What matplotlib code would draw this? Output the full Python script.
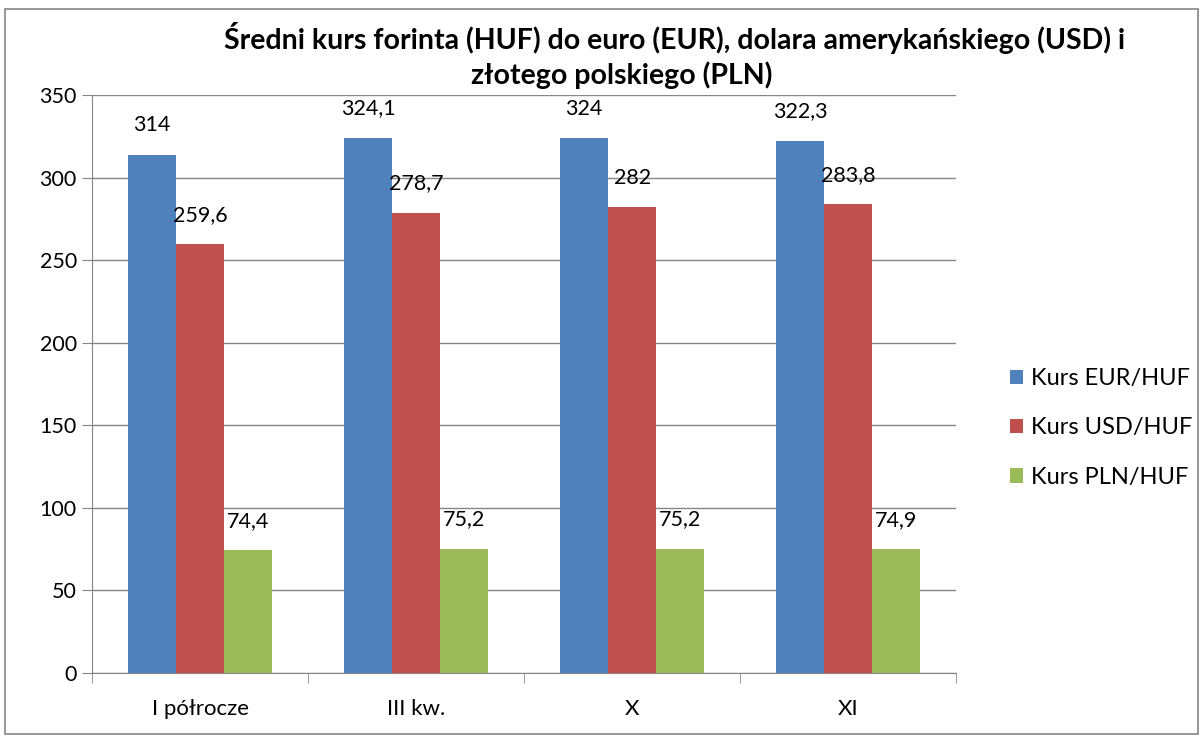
import numpy as np
import matplotlib.pyplot as plt
from matplotlib.patches import Rectangle

plt.rcParams["font.family"] = ["Lato", "DejaVu Sans"]

categories = ["I półrocze", "III kw.", "X", "XI"]
eur_huf = [314, 324.1, 324, 322.3]
usd_huf = [259.6, 278.7, 282, 283.8]
pln_huf = [74.4, 75.2, 75.2, 74.9]
series_names = ["Kurs EUR/HUF", "Kurs USD/HUF", "Kurs PLN/HUF"]
colors = ["#4f81bd", "#c0504d", "#9bbb59"]

fig = plt.figure(figsize=(12.03, 7.37), dpi=100)
ax = fig.add_axes([0.0765, 0.0868, 0.7185, 0.7842])

x = np.arange(len(categories))
width = 0.222
for i, (vals, name, c) in enumerate(zip([eur_huf, usd_huf, pln_huf], series_names, colors)):
    pos = x + (i - 1) * width
    ax.bar(pos, vals, width, color=c, label=name, zorder=3)
    for px, v in zip(pos, vals):
        ax.annotate(f"{v:g}".replace(".", ","), (px, v), xytext=(0, 14),
                    textcoords="offset points", ha="center", va="bottom", fontsize=15.5)

ax.set_ylim(0, 350)
ax.set_yticks(np.arange(0, 351, 50))
ax.set_xlim(-0.5, len(categories) - 0.5)
ax.set_xticks(x)
ax.set_xticklabels(categories)
ax.set_xticks(np.arange(-0.5, len(categories)), minor=True)
ax.tick_params(axis="x", which="major", length=0, pad=19, labelsize=16)
ax.tick_params(axis="x", which="minor", length=7, color="#868686", direction="out")
ax.tick_params(axis="y", length=7, color="#868686", labelsize=15.5, pad=4)
ax.yaxis.grid(True, color="#868686", linewidth=1, zorder=0)
for s in ["top", "right"]:
    ax.spines[s].set_visible(False)
for s in ["left", "bottom"]:
    ax.spines[s].set_color("#868686")

ax.legend(loc="center left", bbox_to_anchor=(1.062, 0.424), frameon=False, fontsize=17,
          handlelength=0.55, handleheight=0.55, labelspacing=1.2, handletextpad=0.35,
          borderpad=0, borderaxespad=0)

fig.text(0.561, 0.949, "Średni kurs forinta (HUF) do euro (EUR), dolara amerykańskiego (USD) i",
         ha="center", va="center", fontsize=20.5, fontweight="bold")
fig.text(0.517, 0.898, "złotego polskiego (PLN)", ha="center", va="center",
         fontsize=20.5, fontweight="bold")

fig.patches.append(Rectangle((0.004, 0.004), 0.992, 0.984, transform=fig.transFigure,
                             fill=False, edgecolor="#868686", linewidth=1.2))

plt.savefig("out.png", dpi=100)
